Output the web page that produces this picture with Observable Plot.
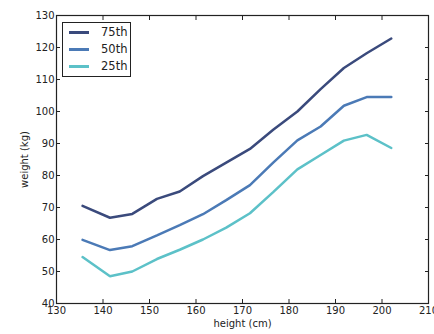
<!DOCTYPE html>
<html>
<head>
<meta charset="utf-8">
<script src="https://cdn.jsdelivr.net/npm/d3@7"></script>
<script src="https://cdn.jsdelivr.net/npm/@observablehq/plot@0.6"></script>
<style>
  html, body { margin: 0; padding: 0; background: #fff; }
  #wrap { position: relative; width: 434px; height: 334px; font-family: "DejaVu Sans", sans-serif; }
  #legend { position: absolute; left: 62px; top: 22px; width: 67px; height: 53px; border: 1px solid #222; background: #fff; }
  .row { position: absolute; left: 0; height: 16px; width: 67px; }
  .row .sw { position: absolute; left: 6px; top: 7px; width: 20px; height: 2.5px; }
  .row .lab { position: absolute; left: 38px; top: 0px; font-size: 11.5px; line-height: 16px; color: #222; }
</style>
</head>
<body>
<div id="wrap"></div>
<script>
const heights = [135.6, 141.5, 146.3, 151.6, 156.5, 161.5, 166.5, 171.6, 176.6, 181.8, 186.8, 191.8, 196.7, 202.0];
const p75 = [70.5, 66.8, 68.0, 72.7, 75.0, 79.8, 84.0, 88.3, 94.3, 100.0, 107.0, 113.6, 118.2, 122.8];
const p50 = [59.9, 56.7, 57.9, 61.3, 64.5, 67.9, 72.3, 77.0, 84.0, 91.0, 95.3, 101.8, 104.5, 104.5];
const p25 = [54.5, 48.5, 50.0, 53.9, 56.8, 60.0, 63.7, 68.2, 74.8, 81.9, 86.4, 90.9, 92.7, 88.6];
const seriesNames = ["75th", "50th", "25th"];
const seriesColors = ["#3a4a7c", "#4b7ab6", "#5cc1c8"];
const xTicks = [130, 140, 150, 160, 170, 180, 190, 200, 210];
const yTicks = [40, 50, 60, 70, 80, 90, 100, 110, 120, 130];

const seriesValues = [p75, p50, p25];
const rows = [];
seriesNames.forEach((name, i) => {
  heights.forEach((h, j) => rows.push({series: name, height: h, weight: seriesValues[i][j]}));
});

const blank = () => "";
const chart = Plot.plot({
  width: 434,
  height: 334,
  marginTop: 15,
  marginRight: 6,
  marginBottom: 31,
  marginLeft: 56,
  style: {fontFamily: "DejaVu Sans, sans-serif", fontSize: "10px", color: "#222", background: "#fff"},
  x: {domain: [130, 210]},
  y: {domain: [40, 130]},
  color: {domain: seriesNames, range: seriesColors},
  marks: [
    Plot.lineY(rows, {x: "height", y: "weight", z: "series", stroke: "series", strokeWidth: 2.5, strokeLinejoin: "miter"}),
    Plot.axisX({ticks: xTicks, tickSize: 0, tickPadding: 3, label: "height (cm)", labelAnchor: "center", labelArrow: "none", labelOffset: 23}),
    Plot.axisX({ticks: xTicks, tickSize: -4, tickFormat: blank, label: null}),
    Plot.axisX({anchor: "top", ticks: xTicks, tickSize: -4, tickFormat: blank, label: null}),
    Plot.axisY({ticks: yTicks, tickSize: 0, tickPadding: 2, label: "weight (kg)", labelAnchor: "center", labelArrow: "none", labelOffset: 36}),
    Plot.axisY({ticks: yTicks, tickSize: -4, tickFormat: blank, label: null}),
    Plot.axisY({anchor: "right", ticks: yTicks, tickSize: -4, tickFormat: blank, label: null}),
    Plot.frame({stroke: "#222", strokeWidth: 1.2})
  ]
});
const wrap = document.getElementById("wrap");
wrap.appendChild(chart);

const legend = document.createElement("div");
legend.id = "legend";
seriesNames.forEach((name, i) => {
  const r = document.createElement("div");
  r.className = "row";
  r.style.top = (1 + i * 17) + "px";
  const sw = document.createElement("div");
  sw.className = "sw";
  sw.style.background = seriesColors[i];
  const lab = document.createElement("div");
  lab.className = "lab";
  lab.textContent = name;
  r.appendChild(sw); r.appendChild(lab);
  legend.appendChild(r);
});
wrap.appendChild(legend);
</script>
</body>
</html>
